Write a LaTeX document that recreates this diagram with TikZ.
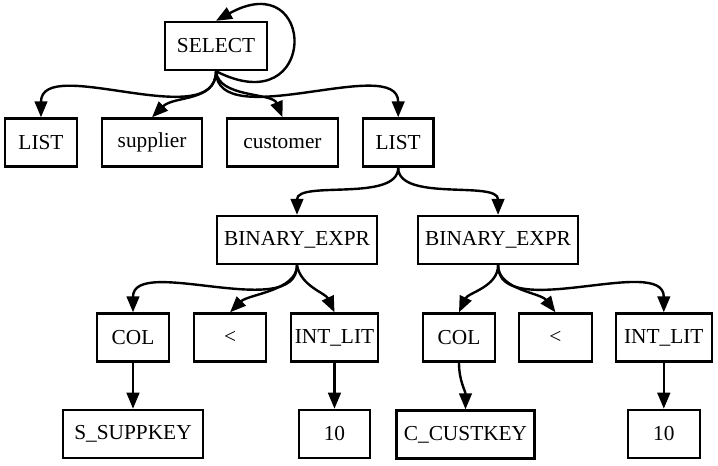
\documentclass[tikz,border=0pt]{standalone}
\usepackage{fontspec}
\setmainfont{Liberation Serif}
\usetikzlibrary{arrows.meta}
\usetikzlibrary{positioning}

\begin{document}
\begin{tikzpicture}[->,>={Triangle[length=12pt,width=9.5pt]},x=0.75pt,y=-0.75pt,
  line width=1.8pt,node distance=17pt,
  ast node/.style={rectangle,draw,minimum height=36pt,inner sep=0pt,font=\fontsize{16}{19}\selectfont}]

  \useasboundingbox (0,0) rectangle (718,465);

  \node[ast node,minimum width=76.5pt] (select) at (216,46) {SELECT};

  \node[ast node,minimum width=54pt] (list1) at (41,142.5) {LIST};
  \node[ast node,minimum width=75pt] (supplier) [right=of list1] {supplier};
  \node[ast node,minimum width=83pt] (customer) [right=of supplier] {customer};
  \node[ast node,minimum width=53pt] (list2) [right=of customer] {LIST};

  \node[ast node,minimum width=120pt] (expr1) at (297,240) {BINARY\_EXPR};
  \node[ast node,minimum width=120pt] (expr2) [right=29pt of expr1] {BINARY\_EXPR};

  \node[ast node,minimum width=54pt] (col1) at (133,337.5) {COL};
  \node[ast node,minimum width=54pt] (lt1) [right=of col1] {<};
  \node[ast node,minimum width=65pt] (lit1) [right=of lt1] {INT\_LIT};
  \node[ast node,minimum width=54pt] (col2) at (459,337.5) {COL};
  \node[ast node,minimum width=55pt] (lt2) [right=16pt of col2] {<};
  \node[ast node,minimum width=72pt] (lit2) [right=16pt of lt2] {INT\_LIT};

  \node[ast node,minimum width=105pt] (suppkey) [below=34.5pt of col1] {S\_SUPPKEY};
  \node[ast node,minimum width=53pt] (ten1) [below=34.5pt of lit1] {10};
  \node[ast node,minimum width=103.5pt] (custkey) at (465.5,434.5) {C\_CUSTKEY};
  \node[ast node,minimum width=54pt] (ten2) [below=34.5pt of lit2] {10};

  \path
    (select.south) edge [out=-27,in=29,looseness=5.9] (select.north)
                   edge [out=-90,in=90,looseness=0.9] (list1.north)
                   edge [out=-90,in=45,looseness=1] (supplier.north)
                   edge [out=-85,in=112,looseness=0.85] (customer.north)
                   edge [out=-90,in=90,looseness=0.87] (list2.north)
    (list2.south)  edge [out=-90,in=90,looseness=0.8] (expr1.north)
                   edge [out=-90,in=90,looseness=0.8] (expr2.north)
    (expr1.south)  edge [out=-90,in=90,looseness=0.87] (col1.north)
                   edge [out=-90,in=45,looseness=0.8] (lt1.north)
                   edge [out=-80,in=115,looseness=0.9] (lit1.north)
    (expr2.south)  edge [out=-90,in=65,looseness=0.9] (col2.north)
                   edge [out=-90,in=127,looseness=0.85] (lt2.north)
                   edge [out=-90,in=90,looseness=0.87] (lit2.north)
    (col1) edge (suppkey)
    (lit1) edge (ten1)
    (col2.south) edge [out=-90,in=90] (custkey.north)
    (lit2) edge (ten2);
\end{tikzpicture}
\end{document}
